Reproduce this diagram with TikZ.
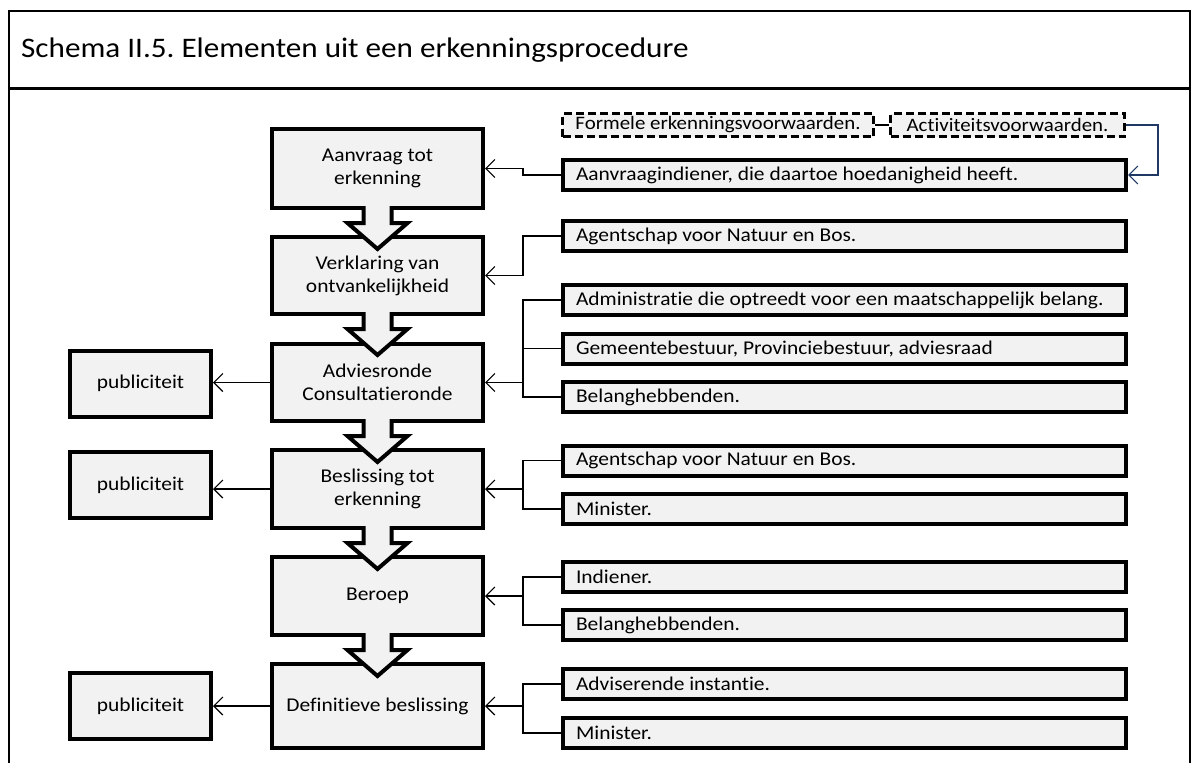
\documentclass[tikz,border=0pt]{standalone}
\usepackage{fontspec}
\setmainfont{Carlito}[FakeStretch=1.1, Ligatures=NoCommon]
\frenchspacing
\usetikzlibrary{arrows.meta,calc}
\definecolor{boxgray}{HTML}{F2F2F2}
\definecolor{linkblue}{HTML}{1F3864}

% block arrow leading from a stage box down into the next one
\newcommand\stagearrow[1]{%
  \fill[boxgray] ($(#1.south)+(-14,-4.5)$) -- ($(#1.south)+(-14,13)$) -- ($(#1.south)+(-30,13)$)
    -- ($(#1.south)+(0,39)$) -- ($(#1.south)+(30,13)$) -- ($(#1.south)+(14,13)$)
    -- ($(#1.south)+(14,-4.5)$) -- cycle;
  \draw[line width=4pt, miter limit=10] ($(#1.south)+(-14,-4)$) -- ($(#1.south)+(-14,13)$)
    -- ($(#1.south)+(-30,13)$) -- ($(#1.south)+(0,39)$) -- ($(#1.south)+(30,13)$)
    -- ($(#1.south)+(14,13)$) -- ($(#1.south)+(14,-4)$);
}

\begin{document}
\begin{tikzpicture}[x=1pt,y=-1pt,
  txt/.style={font=\fontsize{19.5}{23}\selectfont},
  stage/.style={txt, draw, line width=4pt, fill=boxgray, minimum width=211pt,
    align=center, inner sep=0pt},
  actor/.style={txt, draw, line width=4pt, fill=boxgray, text width=537pt,
    inner xsep=13pt, inner ysep=0pt, minimum height=30pt, align=flush left},
  cond/.style={font=\fontsize{19}{23}\selectfont, draw, line width=3pt,
    dash pattern=on 8pt off 4pt, fill=boxgray, minimum height=23pt, inner sep=0pt},
  pub/.style={txt, draw, line width=4pt, fill=boxgray, minimum width=141pt,
    minimum height=66pt, inner sep=0pt},
  wire/.style={line width=1.2pt},
  link/.style={wire, -{Straight Barb[length=9pt,width=18pt]}},
]
\useasboundingbox (0,0) rectangle (1192,763);
\clip (0,0) rectangle (1192,763);

% outer frame and title bar
\draw[line width=2pt] (9,800) -- (9,11) -- (1190,11) -- (1190,800);
\draw[line width=3pt] (9,88.5) -- (1190,88.5);
\node[anchor=base west, inner sep=0pt, font=\fontsize{28.3}{33}\selectfont] (title)
  at (21,57) {Schema II.5. Elementen uit een erkenningsprocedure};

% procedure stages
\node[stage, minimum height=79pt] (b1) at (377.5,168.5) {Aanvraag tot\\erkenning};
\node[stage, minimum height=77pt] (b2) at (377.5,275.5) {Verklaring van\\ontvankelijkheid};
\node[stage, minimum height=77pt] (b3) at (377.5,382.5) {Adviesronde\\Consultatieronde};
\node[stage, minimum height=78pt] (b4) at (377.5,489) {Beslissing tot\\erkenning};
\node[stage, minimum height=78pt] (b5) at (377.5,596) {Beroep};
\node[stage, minimum height=84pt] (b6) at (377.5,706) {Definitieve beslissing};

% publicity
\node[pub] (p1) at (140.5,383.5) {publiciteit};
\node[pub] (p2) at (140.5,485) {publiciteit};
\node[pub] (p3) at (140.5,706) {publiciteit};

% conditions
\node[cond, minimum width=311pt] (f1) at (718,125) {Formele erkenningsvoorwaarden.};
\node[cond, minimum width=234pt] (f2) at (1007.5,125) {Activiteitsvoorwaarden.};

% actors involved
\node[actor] (r1) at (844.5,175) {\mbox{Aanvraagindiener, die daartoe hoedanigheid heeft.}};
\node[actor] (r2) at (844.5,236) {\mbox{Agentschap voor Natuur en Bos.}};
\node[actor] (r3) at (844.5,300) {\mbox{Administratie die optreedt voor een maatschappelijk belang.}};
\node[actor] (r4) at (844.5,348.5) {\mbox{Gemeentebestuur, Provinciebestuur, adviesraad}};
\node[actor] (r5) at (844.5,397) {\mbox{Belanghebbenden.}};
\node[actor] (r6) at (844.5,460.5) {\mbox{Agentschap voor Natuur en Bos.}};
\node[actor] (r7) at (844.5,509) {\mbox{Minister.}};
\node[actor] (r8) at (844.5,577) {\mbox{Indiener.}};
\node[actor] (r9) at (844.5,625) {\mbox{Belanghebbenden.}};
\node[actor] (r10) at (844.5,684) {\mbox{Adviserende instantie.}};
\node[actor] (r11) at (844.5,733) {\mbox{Minister.}};

% flow between stages
\stagearrow{b1}
\stagearrow{b2}
\stagearrow{b3}
\stagearrow{b4}
\stagearrow{b5}

% connectors from conditions
\draw[wire] (f1.east) -- (f2.west);
\draw[link, linkblue] (f2.east) -- ++(32,0) |- (r1.east);

% connectors from actors
\coordinate (bus) at (523,0);
\draw[link] (r1.west) -- ++(-38,0) |- (b1.east);
\draw[link] (r2.west) -- ++(-38,0) |- (b2.east);

\draw[wire] (r3.west) -| (bus |- r5.west) -- (r5.west);
\draw[wire] (r4.west) -- (bus |- r4.west);
\draw[link] (bus |- b3.east) -- (b3.east);

\draw[wire] (r6.west) -| (bus |- r7.west) -- (r7.west);
\draw[link] (bus |- b4.east) -- (b4.east);

\draw[wire] (r8.west) -| (bus |- r9.west) -- (r9.west);
\draw[link] (bus |- b5.east) -- (b5.east);

\draw[wire] (r10.west) -| (bus |- r11.west) -- (r11.west);
\draw[link] (bus |- b6.east) -- (b6.east);

% connectors to publicity
\draw[link] (b3.west) -- (b3.west -| p1.east);
\draw[link] (b4.west) -- (b4.west -| p2.east);
\draw[link] (b6.west) -- (b6.west -| p3.east);
\end{tikzpicture}
\end{document}
